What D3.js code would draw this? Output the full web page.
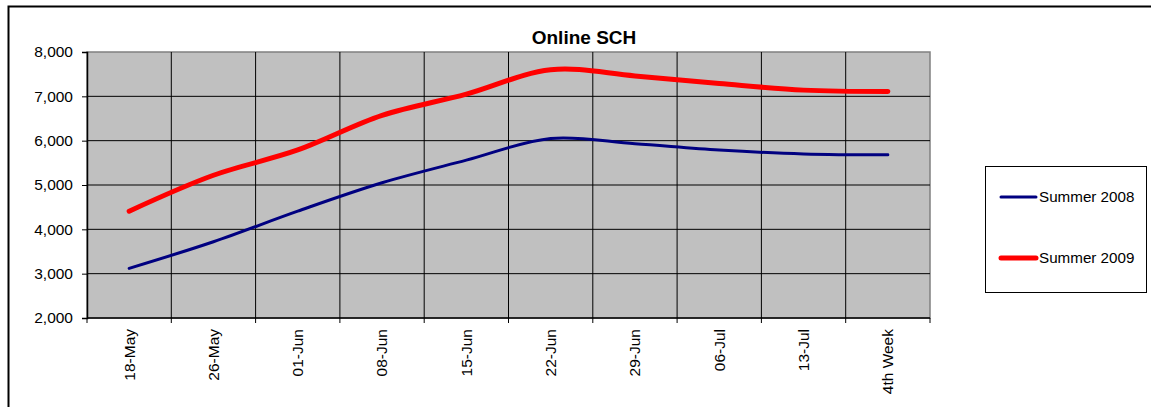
<!DOCTYPE html>
<html>
<head>
<meta charset="utf-8">
<script src="https://cdn.jsdelivr.net/npm/d3@7"></script>
<style>
  body { margin: 0; background: #fff; }
  text { font-family: "Liberation Sans", Arial, sans-serif; }
</style>
</head>
<body>
<svg id="chart" width="1151" height="407"></svg>
<script>
var weeks = ["18-May", "26-May", "01-Jun", "08-Jun", "15-Jun", "22-Jun", "29-Jun", "06-Jul", "13-Jul", "4th Week"]
var summer2008 = [3120, 3720, 4410, 5050, 5560, 6050, 5930, 5790, 5700, 5680]
var summer2009 = [4410, 5220, 5790, 6570, 7050, 7600, 7460, 7290, 7140, 7110]
var yTicks = [2000, 3000, 4000, 5000, 6000, 7000, 8000]
var seriesNames = ["Summer 2008", "Summer 2009"]
var seriesColors = ["#000080", "#ff0000"]

var svg = d3.select("#chart")

// outer chart border (right and bottom run off the picture)
svg.append("rect")
    .attr("x", 8.5).attr("y", 6.5)
    .attr("width", 1160).attr("height", 420)
    .attr("fill", "#fff").attr("stroke", "#000").attr("stroke-width", 2)

var plotLeft = 87, plotRight = 930, plotTop = 52, plotBottom = 318

var scaleX = d3.scaleBand()
    .domain(weeks)
    .range([plotLeft, plotRight])
    .padding(0)

var scaleY = d3.scaleLinear()
    .domain([2000, 8000])
    .range([plotBottom, plotTop])

// plot area
svg.append("rect")
    .attr("x", plotLeft).attr("y", plotTop)
    .attr("width", plotRight - plotLeft).attr("height", plotBottom - plotTop)
    .attr("fill", "#c0c0c0").attr("stroke", "#808080").attr("stroke-width", 1.5)

// horizontal gridlines
svg.append("g").selectAll("line")
    .data(yTicks.slice(1, -1)).enter()
    .append("line")
    .attr("x1", plotLeft).attr("x2", plotRight)
    .attr("y1", d => scaleY(d)).attr("y2", d => scaleY(d))
    .attr("stroke", "#000").attr("stroke-width", 1)

// vertical gridlines at category boundaries
svg.append("g").selectAll("line")
    .data(weeks.slice(1)).enter()
    .append("line")
    .attr("x1", d => scaleX(d)).attr("x2", d => scaleX(d))
    .attr("y1", plotTop).attr("y2", plotBottom)
    .attr("stroke", "#000").attr("stroke-width", 1)

// y axis
var axisY = d3.axisLeft(scaleY)
    .tickValues(yTicks)
    .tickFormat(d3.format(","))
    .tickSize(5)
    .tickPadding(9)
var gy = svg.append("g").attr("transform", "translate(" + plotLeft + ",0)").call(axisY)
gy.select(".domain").attr("stroke", "#000").attr("stroke-width", 1.5)
gy.selectAll(".tick line").attr("stroke", "#000")
gy.selectAll("text").attr("font-size", "15.5px").attr("fill", "#000")
    .attr("font-family", "'Liberation Sans', Arial, sans-serif")

// x axis line and ticks at boundaries
svg.append("line")
    .attr("x1", plotLeft).attr("x2", plotRight)
    .attr("y1", plotBottom).attr("y2", plotBottom)
    .attr("stroke", "#000").attr("stroke-width", 1.5)
svg.append("g").selectAll("line")
    .data(weeks.concat(["end"])).enter()
    .append("line")
    .attr("x1", (d, i) => plotLeft + i * scaleX.bandwidth())
    .attr("x2", (d, i) => plotLeft + i * scaleX.bandwidth())
    .attr("y1", plotBottom).attr("y2", plotBottom + 5)
    .attr("stroke", "#000")

// x labels rotated
svg.append("g").selectAll("text")
    .data(weeks).enter()
    .append("text")
    .attr("transform", d => "translate(" + (scaleX(d) + scaleX.bandwidth() / 2) + "," + (plotBottom + 11) + ") rotate(-90)")
    .attr("text-anchor", "end")
    .attr("dy", "0.35em")
    .attr("font-size", "15.5px")
    .text(d => d)

// lines
var line = d3.line()
    .x((d, i) => scaleX(weeks[i]) + scaleX.bandwidth() / 2)
    .y(d => scaleY(d))
    .curve(d3.curveCatmullRom.alpha(0.5))

svg.append("path")
    .attr("d", line(summer2008))
    .attr("fill", "none").attr("stroke", seriesColors[0])
    .attr("stroke-width", 3).attr("stroke-linecap", "round")

svg.append("path")
    .attr("d", line(summer2009))
    .attr("fill", "none").attr("stroke", seriesColors[1])
    .attr("stroke-width", 5).attr("stroke-linecap", "round")

// title
svg.append("text")
    .attr("x", 584).attr("y", 44)
    .attr("text-anchor", "middle")
    .attr("font-size", "19px").attr("font-weight", "bold")
    .text("Online SCH")

// legend
svg.append("rect")
    .attr("x", 985.5).attr("y", 166.5)
    .attr("width", 161).attr("height", 126)
    .attr("fill", "#fff").attr("stroke", "#000").attr("stroke-width", 1)

var legendY = [197, 258]
var legend = svg.append("g").selectAll("g")
    .data(seriesNames).enter()
    .append("g")
    .attr("transform", (d, i) => "translate(0," + legendY[i] + ")")
legend.append("line")
    .attr("x1", 1001).attr("x2", 1036)
    .attr("stroke", (d, i) => seriesColors[i])
    .attr("stroke-width", (d, i) => i == 0 ? 3 : 5)
    .attr("stroke-linecap", "round")
legend.append("text")
    .attr("x", 1039).attr("dy", "0.35em")
    .attr("font-size", "15.2px")
    .text(d => d)
</script>
</body>
</html>
